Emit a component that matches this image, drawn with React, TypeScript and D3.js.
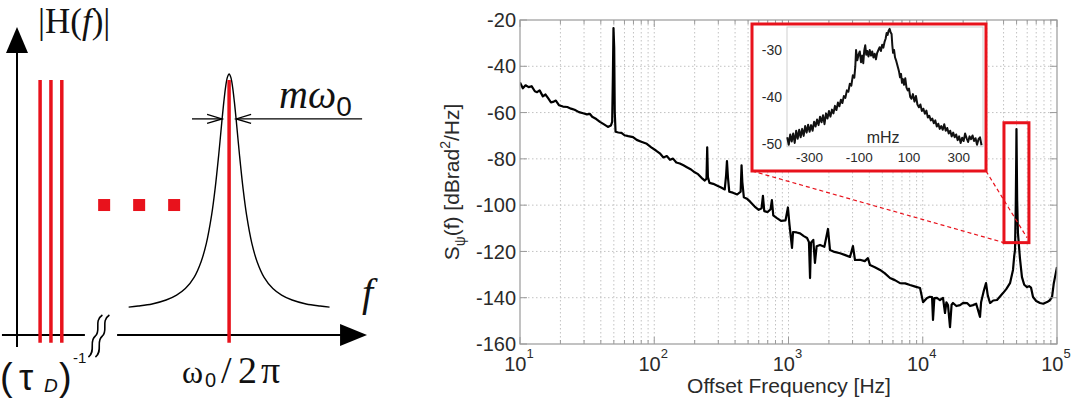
import { useEffect, useRef } from "react";
import * as d3 from "d3";

const WIDTH = 1077;
const HEIGHT = 402;
const RED = "#e8121c";

// phase noise spectrum: [offset frequency in Hz, level in dBrad^2/Hz]
const spectrum: [number, number][] = [
  [10, -47.0], [10.5, -49.5], [11.0, -48.2], [11.6, -49.0], [12.2, -48.6], [12.9, -50.8],
  [13.4, -51.2], [14.0, -50.4], [14.8, -53.0], [15.5, -52.2], [16.2, -53.8], [17.0, -55.6],
  [17.6, -55.4], [18.5, -54.8], [19.5, -56.8], [20.9, -57.4], [22.5, -57.6], [24.0, -58.3],
  [25.5, -58.8], [27.5, -59.8], [29.5, -60.3], [31.5, -60.8], [33.2, -60.6], [34.5, -61.8],
  [37.0, -62.8], [39.4, -64.0], [42.0, -65.0], [45.2, -66.2], [47.5, -65.6], [48.6, -64.0],
  [49.2, -44.0], [49.7, -23.5], [50.3, -32.0], [50.8, -60.0], [51.5, -68.3], [54, -68.6],
  [57, -68.8], [60, -69.8], [64, -70.2], [69.5, -70.6], [74, -71.8], [80, -72.6],
  [88, -73.5], [95, -75.0], [103, -76.4], [110, -77.6], [117, -79.4], [124, -78.8],
  [131, -80.4], [138, -79.9], [146, -81.6], [155, -82.0], [165, -82.8], [175, -83.6],
  [188, -84.6], [200, -85.8], [212, -86.6], [225, -88.2], [238, -89.4], [245, -88.6],
  [248, -75.0], [251, -87.8], [258, -90.4], [275, -90.8], [295, -91.6], [315, -92.4],
  [335, -93.2], [343, -87.0], [348, -81.0], [354, -88.0], [362, -94.2], [385, -94.6],
  [415, -95.4], [440, -94.2], [447, -82.8], [453, -90.0], [465, -96.6], [490, -97.2],
  [520, -98.6], [560, -100.6], [600, -102.0], [630, -101.4], [645, -96.0], [660, -102.6],
  [700, -103.0], [735, -101.8], [752, -97.8], [770, -104.4], [820, -105.6], [880, -106.8],
  [950, -106.6], [990, -101.0], [1015, -108.0], [1062, -118.5], [1081, -111.6], [1150, -111.8],
  [1219, -112.2], [1300, -113.4], [1375, -114.2], [1420, -116.0], [1447, -131.5], [1470, -116.2],
  [1530, -115.0], [1574, -125.0], [1620, -117.8], [1717, -117.2], [1850, -118.0], [1968, -110.3],
  [2038, -119.4], [2200, -120.2], [2420, -120.8], [2650, -121.6], [2872, -122.4], [3021, -117.7],
  [3127, -123.7], [3400, -123.6], [3700, -124.2], [3908, -122.9], [4045, -125.9], [4400, -126.8],
  [4806, -128.0], [5200, -129.4], [5703, -131.5], [6200, -132.4], [6770, -133.7], [7400, -133.8],
  [8037, -134.5], [8800, -135.2], [9543, -135.8], [10050, -141.9], [10770, -140.1], [11300, -139.6],
  [11730, -139.7], [11920, -149.6], [12200, -140.2], [12760, -140.1], [13430, -141.0], [14150, -140.1],
  [14650, -146.6], [15000, -142.0], [15420, -143.2], [15960, -152.7], [16400, -143.0], [16800, -142.3],
  [17800, -143.6], [18950, -143.2], [20000, -142.2], [21380, -142.3], [22500, -143.6], [23680, -143.2],
  [25000, -142.6], [26700, -148.3], [27200, -142.0], [28500, -137.0], [29600, -133.7], [30500, -139.0],
  [31700, -142.3], [33500, -141.2], [35730, -141.0], [37500, -139.6], [39610, -138.0], [42000, -136.2],
  [44670, -133.7], [47010, -128.0], [48000, -122.0], [48660, -119.4], [49300, -100.0], [49700, -80.0],
  [49900, -67.1], [50100, -78.0], [50500, -98.0], [51170, -112.0], [52970, -123.0], [54830, -131.1],
  [57000, -134.4], [59780, -135.4], [62000, -135.0], [64030, -135.6], [66280, -139.7], [70000, -141.4],
  [74710, -142.3], [79000, -142.6], [84270, -141.9], [88000, -141.2], [91830, -139.7], [94500, -134.0],
  [96640, -131.1], [100000, -126.7],
];

const levelTicks = [-20, -40, -60, -80, -100, -120, -140, -160];
const decadeTicks = [10, 100, 1000, 10000, 100000];
const decadeExponents = ["1", "2", "3", "4", "5"];

// close-up of the 50 kHz line: [offset in mHz, level in dB]
const closeUp: [number, number][] = [
  [-390, -48.6], [-384, -50.2], [-378, -48.0], [-372, -49.5], [-366, -47.8], [-360, -49.8],
  [-354, -47.2], [-348, -48.9], [-342, -47.0], [-336, -48.6], [-330, -46.8], [-324, -48.3],
  [-318, -46.2], [-312, -47.6], [-306, -45.9], [-300, -47.4], [-294, -46.0], [-288, -47.2],
  [-282, -45.3], [-276, -46.3], [-270, -44.8], [-264, -46.0], [-258, -44.2], [-252, -45.4],
  [-246, -43.9], [-240, -45.8], [-234, -43.5], [-228, -44.6], [-222, -43.0], [-216, -44.2],
  [-210, -42.7], [-204, -43.5], [-198, -41.9], [-192, -42.8], [-186, -41.2], [-180, -42.0],
  [-174, -40.6], [-168, -41.3], [-162, -39.8], [-156, -40.2], [-150, -38.6], [-144, -38.9],
  [-138, -37.2], [-132, -37.6], [-126, -35.4], [-120, -35.9], [-116, -33.5], [-113, -30.0],
  [-108, -32.2], [-103, -31.0], [-98, -30.3], [-93, -32.6], [-88, -31.2], [-84, -32.8],
  [-80, -30.1], [-76, -29.0], [-72, -31.0], [-68, -30.2], [-63, -31.4], [-58, -30.0],
  [-53, -31.2], [-48, -30.3], [-43, -31.6], [-38, -30.8], [-33, -32.0], [-28, -30.6],
  [-23, -30.0], [-18, -29.4], [-13, -30.2], [-8, -28.9], [-3, -29.5], [2, -28.2],
  [6, -27.6], [10, -26.4], [14, -26.8], [18, -25.9], [22, -25.5], [26, -26.2],
  [30, -26.6], [33, -29.0], [36, -30.6], [40, -30.0], [44, -31.6], [48, -32.2],
  [52, -33.0], [56, -33.8], [60, -34.6], [64, -35.8], [68, -35.1], [72, -37.0],
  [76, -36.2], [80, -37.4], [85, -36.0], [90, -38.0], [95, -38.6], [100, -38.2],
  [105, -40.0], [110, -40.4], [116, -39.4], [122, -41.0], [128, -39.8], [134, -41.6],
  [140, -42.2], [146, -41.6], [152, -43.0], [158, -42.5], [164, -43.6], [170, -42.9],
  [176, -44.4], [182, -44.0], [188, -45.0], [194, -44.6], [200, -45.6], [206, -45.0],
  [212, -46.3], [218, -45.7], [224, -46.8], [230, -46.2], [236, -47.0], [242, -45.8],
  [248, -47.2], [254, -46.6], [260, -47.8], [266, -47.2], [272, -48.4], [278, -47.6],
  [284, -48.6], [290, -48.0], [296, -49.2], [302, -48.4], [308, -49.8], [314, -48.7],
  [320, -49.4], [326, -47.8], [332, -48.8], [338, -49.6], [344, -48.4], [350, -49.0],
  [356, -48.2], [362, -49.4], [368, -48.8], [374, -50.2], [380, -49.0], [386, -48.6],
  [392, -50.3],
];
const closeUpLevelTicks = [-30, -40, -50];
const closeUpOffsetTicks = [-300, -100, 100, 300];

// window on the main axes that the close-up shows
const zoomFreqs = [40270, 61800];
const zoomLevels = [-116.2, -64.4];

// schematic |H(f)|, arbitrary units
const combLines = [0.66, 0.97, 1.28];
const ellipsisDots = [2.49, 3.49, 4.49];
const resonanceAt = 6.06;
const lineTop = 0.977;
const peakOffsets = [
  -2.87, -2.6, -2.2, -1.8, -1.5, -1.25, -1.0, -0.8, -0.65, -0.5, -0.4, -0.3, -0.2, -0.15, -0.1, -0.05,
  0, 0.05, 0.1, 0.15, 0.2, 0.3, 0.4, 0.5, 0.65, 0.8, 1.0, 1.25, 1.5, 1.8, 2.2, 2.6, 2.87,
];
const peakLevels = [
  0.107, 0.111, 0.119, 0.134, 0.153, 0.178, 0.221, 0.281, 0.351, 0.459, 0.56, 0.686, 0.828, 0.894, 0.95, 0.987,
  1.0, 0.987, 0.95, 0.894, 0.828, 0.686, 0.56, 0.459, 0.351, 0.281, 0.221, 0.178, 0.153, 0.134, 0.119, 0.111, 0.107,
];
const widthLevel = 0.828;
const widthHalf = 0.2;

type Sel = d3.Selection<SVGSVGElement, unknown, null, undefined>;

function drawSchematic(svg: Sel) {
  const sx = d3.scaleLinear().domain([0, 10]).range([17, 367]);
  const sy = d3.scaleLinear().domain([0, 1]).range([335, 74]);
  const g = svg.append("g").attr("class", "schematic");

  // vertical axis with arrow
  g.append("line")
    .attr("x1", sx(0)).attr("x2", sx(0))
    .attr("y1", sy(-0.046)).attr("y2", sy(1.09))
    .attr("stroke", "#000").attr("stroke-width", 2);
  g.append("path")
    .attr("d", `M${sx(0)},${sy(1.18)} L${sx(0) - 11},${sy(1.08)} L${sx(0) + 11},${sy(1.08)} Z`)
    .attr("fill", "#000");

  // horizontal axis, broken after the comb
  g.append("line")
    .attr("x1", sx(-0.43)).attr("x2", sx(1.94))
    .attr("y1", sy(0)).attr("y2", sy(0))
    .attr("stroke", "#000").attr("stroke-width", 2);
  g.append("line")
    .attr("x1", sx(2.86)).attr("x2", sx(9.3))
    .attr("y1", sy(0)).attr("y2", sy(0))
    .attr("stroke", "#000").attr("stroke-width", 2);
  g.append("path")
    .attr("d", `M${sx(10)},${sy(0)} L${sx(9.23)},${sy(0) - 11} L${sx(9.23)},${sy(0) + 11} Z`)
    .attr("fill", "#000");

  // break marks
  [2.24, 2.44].forEach((u) => {
    const cx = sx(u);
    g.append("path")
      .attr(
        "d",
        `M${cx - 7},357 C${cx + 1},351 ${cx - 7},341 ${cx},336 C${cx + 6},331 ${cx - 2},321 ${cx + 7},315`
      )
      .attr("fill", "none")
      .attr("stroke", "#000")
      .attr("stroke-width", 1.6);
  });

  // comb of delay-line modes
  g.selectAll(".comb")
    .data(combLines)
    .join("line")
    .attr("class", "comb")
    .attr("x1", (d) => sx(d)).attr("x2", (d) => sx(d))
    .attr("y1", sy(-0.03)).attr("y2", sy(lineTop))
    .attr("stroke", RED).attr("stroke-width", 3.5);

  g.selectAll(".dot")
    .data(ellipsisDots)
    .join("rect")
    .attr("class", "dot")
    .attr("x", (d) => sx(d) - 6)
    .attr("y", sy(0.498) - 6)
    .attr("width", 12).attr("height", 12)
    .attr("fill", RED);

  // resonator response
  const peak = d3
    .line<number>()
    .x((d) => sx(resonanceAt + d))
    .y((_, i) => sy(peakLevels[i]))
    .curve(d3.curveCatmullRom);
  g.append("path")
    .attr("d", peak(peakOffsets))
    .attr("fill", "none")
    .attr("stroke", "#000")
    .attr("stroke-width", 1.4);

  g.append("line")
    .attr("x1", sx(resonanceAt)).attr("x2", sx(resonanceAt))
    .attr("y1", sy(-0.03)).attr("y2", sy(lineTop))
    .attr("stroke", RED).attr("stroke-width", 3.5);

  // linewidth arrows
  const wy = sy(widthLevel);
  const lt = sx(resonanceAt - widthHalf);
  const rt = sx(resonanceAt + widthHalf);
  const arrows = g.append("g").attr("stroke", "#000").attr("stroke-width", 1.3).attr("fill", "none");
  arrows.append("line").attr("x1", sx(5.0)).attr("x2", lt).attr("y1", wy).attr("y2", wy);
  arrows.append("path").attr("d", `M${lt - 15},${wy - 4.5} L${lt},${wy} L${lt - 15},${wy + 4.5}`);
  arrows.append("line").attr("x1", sx(9.86)).attr("x2", rt).attr("y1", wy).attr("y2", wy);
  arrows.append("path").attr("d", `M${rt + 15},${wy - 4.5} L${rt},${wy} L${rt + 15},${wy + 4.5}`);

  // labels
  const serif = "'Liberation Serif', 'DejaVu Serif', serif";
  const sans = "'Liberation Sans', Arial, sans-serif";

  const h = g.append("text").attr("x", 38).attr("y", 33).attr("font-family", serif).attr("font-size", 35).attr("fill", "#111");
  h.append("tspan").text("|H(");
  h.append("tspan").attr("font-style", "italic").text("f");
  h.append("tspan").text(")|");

  const mw = g.append("text").attr("x", 279).attr("y", 108).attr("font-family", serif).attr("font-size", 40).attr("fill", "#111");
  mw.append("tspan").attr("font-style", "italic").text("m");
  mw.append("tspan").attr("font-style", "italic").text("ω");
  mw.append("tspan").attr("font-family", sans).attr("font-size", 28).attr("dy", 8).text("0");

  g.append("text")
    .attr("x", 362).attr("y", 306)
    .attr("font-family", serif).attr("font-style", "italic").attr("font-size", 40)
    .attr("fill", "#111")
    .text("f");

  // (τ_D)^-1 under the comb
  g.append("text").attr("x", 0).attr("y", 390)
    .attr("font-family", sans).attr("font-size", 38).attr("fill", "#111").text("(");
  g.append("text").attr("x", 19).attr("y", 390)
    .attr("font-family", sans).attr("font-size", 36).attr("fill", "#111").text("τ");
  g.append("text").attr("x", 44).attr("y", 392)
    .attr("font-family", sans).attr("font-style", "italic").attr("font-size", 19).attr("fill", "#111").text("D");
  g.append("text").attr("x", 59).attr("y", 390)
    .attr("font-family", sans).attr("font-size", 38).attr("fill", "#111").text(")");
  g.append("text").attr("x", 73).attr("y", 363)
    .attr("font-family", sans).attr("font-size", 15).attr("fill", "#111").text("-1");

  // ω0/2π under the resonance
  g.append("text").attr("x", 182).attr("y", 383)
    .attr("font-family", serif).attr("font-size", 32).attr("fill", "#111").text("ω");
  g.append("text").attr("x", 205).attr("y", 387)
    .attr("font-family", sans).attr("font-size", 20).attr("fill", "#111").text("0");
  const frac = g.append("text").attr("y", 383).attr("font-family", serif).attr("font-size", 38).attr("fill", "#111");
  frac.append("tspan").attr("x", 221).text("/");
  frac.append("tspan").attr("x", 238).text("2");
  frac.append("tspan").attr("x", 261).text("π");
}

function drawSpectrum(svg: Sel) {
  const M = { left: 520, right: 1057, top: 20, bottom: 344 };
  const x = d3.scaleLog().domain([10, 1e5]).range([M.left, M.right]);
  const y = d3.scaleLinear().domain([-160, -20]).range([M.bottom, M.top]);
  const sans = "'Liberation Sans', Arial, Helvetica, sans-serif";
  const frame = "#9a9a9a";

  const g = svg.append("g").attr("class", "spectrum");

  // dotted grid
  const allX = x.ticks();
  g.append("g")
    .selectAll("line")
    .data(allX.filter((d) => d > 10 && d < 1e5))
    .join("line")
    .attr("x1", (d) => x(d)).attr("x2", (d) => x(d))
    .attr("y1", M.top).attr("y2", M.bottom)
    .attr("stroke", "#c2c2c2").attr("stroke-width", 1).attr("stroke-dasharray", "1.5,2.5");
  g.append("g")
    .selectAll("line")
    .data(levelTicks.filter((d) => d > -160 && d < -20))
    .join("line")
    .attr("x1", M.left).attr("x2", M.right)
    .attr("y1", (d) => y(d)).attr("y2", (d) => y(d))
    .attr("stroke", "#c2c2c2").attr("stroke-width", 1).attr("stroke-dasharray", "1.5,2.5");

  // trace
  svg.append("defs")
    .append("clipPath").attr("id", "plotClip")
    .append("rect")
    .attr("x", M.left).attr("y", M.top)
    .attr("width", M.right - M.left).attr("height", M.bottom - M.top);

  const trace = d3
    .line<[number, number]>()
    .x((d) => x(d[0]))
    .y((d) => y(d[1]));
  g.append("path")
    .attr("clip-path", "url(#plotClip)")
    .attr("d", trace(spectrum))
    .attr("fill", "none")
    .attr("stroke", "#000")
    .attr("stroke-width", 2.2)
    .attr("stroke-linejoin", "round");

  // box and inward ticks
  g.append("rect")
    .attr("x", M.left).attr("y", M.top)
    .attr("width", M.right - M.left).attr("height", M.bottom - M.top)
    .attr("fill", "none").attr("stroke", frame).attr("stroke-width", 1.2);

  const ticks = g.append("g").attr("stroke", frame).attr("stroke-width", 1);
  allX.forEach((d) => {
    const len = decadeTicks.includes(d) ? 7 : 4;
    ticks.append("line").attr("x1", x(d)).attr("x2", x(d)).attr("y1", M.bottom).attr("y2", M.bottom - len);
    ticks.append("line").attr("x1", x(d)).attr("x2", x(d)).attr("y1", M.top).attr("y2", M.top + len);
  });
  levelTicks.forEach((d) => {
    ticks.append("line").attr("x1", M.left).attr("x2", M.left + 7).attr("y1", y(d)).attr("y2", y(d));
    ticks.append("line").attr("x1", M.right).attr("x2", M.right - 7).attr("y1", y(d)).attr("y2", y(d));
  });

  // tick labels
  g.append("g")
    .selectAll("text")
    .data(levelTicks)
    .join("text")
    .attr("x", M.left - 4)
    .attr("y", (d) => y(d))
    .attr("dy", "0.36em")
    .attr("text-anchor", "end")
    .attr("font-family", sans).attr("font-size", 20).attr("fill", "#2a2a2a")
    .text((d) => d);

  decadeTicks.forEach((d, i) => {
    const t = g.append("text")
      .attr("x", x(d) - 1).attr("y", 371)
      .attr("text-anchor", "middle")
      .attr("font-family", sans).attr("font-size", 20).attr("fill", "#2a2a2a");
    t.append("tspan").text("10");
    t.append("tspan").attr("dy", -13).attr("font-size", 13).text(decadeExponents[i]);
  });

  g.append("text")
    .attr("x", (M.left + M.right) / 2 + 0.5).attr("y", 393)
    .attr("text-anchor", "middle")
    .attr("font-family", sans).attr("font-size", 21).attr("fill", "#2a2a2a")
    .text("Offset Frequency [Hz]");

  const yl = g.append("text")
    .attr("transform", "translate(459,182) rotate(-90)")
    .attr("text-anchor", "middle")
    .attr("font-family", sans).attr("font-size", 21).attr("fill", "#2a2a2a");
  yl.append("tspan").text("S");
  yl.append("tspan").attr("dy", 6).attr("font-size", 14).text("ψ");
  yl.append("tspan").attr("dy", -6).text("(f) [dBrad");
  yl.append("tspan").attr("dy", -9).attr("font-size", 14).text("2");
  yl.append("tspan").attr("dy", 9).text("/Hz]");

  // zoom window on the 50 kHz line
  const zx0 = x(zoomFreqs[0]);
  const zx1 = x(zoomFreqs[1]);
  const zy0 = y(zoomLevels[1]);
  const zy1 = y(zoomLevels[0]);

  const box = { x0: 752, y0: 24, x1: 986, y1: 171 };

  g.append("line")
    .attr("x1", box.x0).attr("y1", box.y1).attr("x2", zx0).attr("y2", zy1)
    .attr("stroke", RED).attr("stroke-width", 1.2).attr("stroke-dasharray", "4,3");
  g.append("line")
    .attr("x1", box.x1).attr("y1", box.y1).attr("x2", zx1 - 2).attr("y2", zy1 - 5)
    .attr("stroke", RED).attr("stroke-width", 1.2).attr("stroke-dasharray", "4,3");

  g.append("rect")
    .attr("x", zx0).attr("y", zy0)
    .attr("width", zx1 - zx0).attr("height", zy1 - zy0)
    .attr("fill", "none").attr("stroke", RED).attr("stroke-width", 3);

  // close-up inset
  const inset = g.append("g").attr("class", "inset");
  inset.append("rect")
    .attr("x", box.x0).attr("y", box.y0)
    .attr("width", box.x1 - box.x0).attr("height", box.y1 - box.y0)
    .attr("fill", "#fff").attr("stroke", RED).attr("stroke-width", 3);

  const ix = d3.scaleLinear().domain([-391, 398]).range([787, 983]);
  const iy = d3.scaleLinear().domain([-50.6, -25.1]).range([146.7, 27]);

  inset.append("rect")
    .attr("x", ix(-391)).attr("y", iy(-25.1))
    .attr("width", ix(398) - ix(-391)).attr("height", iy(-50.6) - iy(-25.1))
    .attr("fill", "none").attr("stroke", "#cfcfcf").attr("stroke-width", 1);

  const closeLine = d3
    .line<[number, number]>()
    .x((d) => ix(d[0]))
    .y((d) => iy(d[1]));
  inset.append("path")
    .attr("d", closeLine(closeUp))
    .attr("fill", "none")
    .attr("stroke", "#111")
    .attr("stroke-width", 2)
    .attr("stroke-linejoin", "round");

  inset.selectAll(".ily")
    .data(closeUpLevelTicks)
    .join("text")
    .attr("class", "ily")
    .attr("x", 782).attr("y", (d) => iy(d))
    .attr("dy", "0.36em")
    .attr("text-anchor", "end")
    .attr("font-family", sans).attr("font-size", 14).attr("fill", "#2a2a2a")
    .text((d) => d);

  inset.selectAll(".ilx")
    .data(closeUpOffsetTicks)
    .join("text")
    .attr("class", "ilx")
    .attr("x", (d) => ix(d)).attr("y", 162)
    .attr("text-anchor", "middle")
    .attr("font-family", sans).attr("font-size", 13.5).attr("fill", "#2a2a2a")
    .text((d) => d);

  inset.append("text")
    .attr("x", ix(0) - 1).attr("y", 143)
    .attr("text-anchor", "middle")
    .attr("font-family", sans).attr("font-size", 16).attr("fill", "#2a2a2a")
    .text("mHz");
}

export default function App() {
  const svgRef = useRef<SVGSVGElement>(null);

  useEffect(() => {
    if (!svgRef.current) return;
    const svg = d3.select(svgRef.current);
    svg.selectAll("*").remove();
    drawSchematic(svg);
    drawSpectrum(svg);
  }, []);

  return (
    <svg
      ref={svgRef}
      width={WIDTH}
      height={HEIGHT}
      style={{ position: "absolute", left: 0, top: 0, background: "#fff", display: "block" }}
    />
  );
}
